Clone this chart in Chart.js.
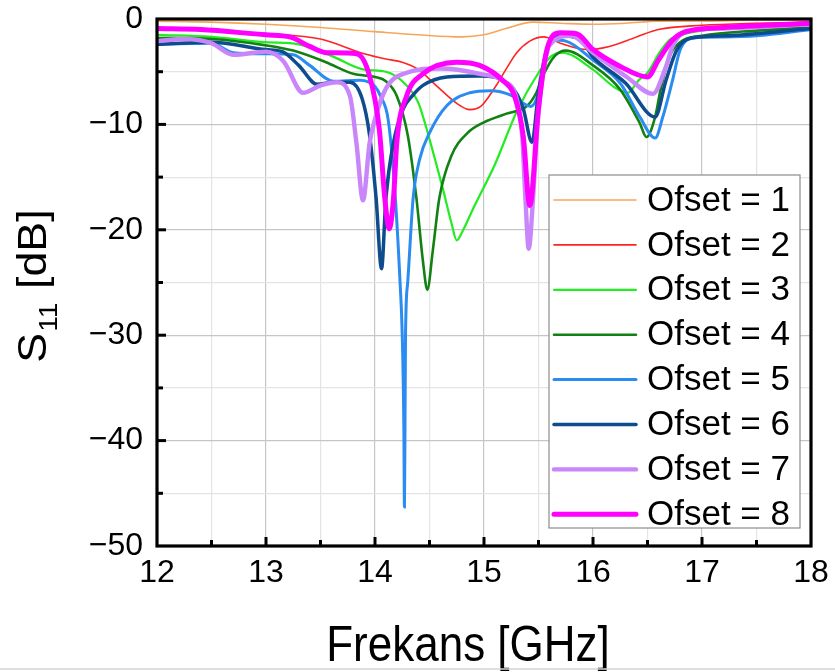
<!DOCTYPE html>
<html>
<head>
<meta charset="utf-8">
<script src="https://cdn.jsdelivr.net/npm/chart.js@4.4.1/dist/chart.umd.min.js"></script>
<style>
  html, body { margin: 0; padding: 0; background: #fff; }
  canvas { display: block; }
</style>
</head>
<body>
<canvas id="chart" width="835" height="672"></canvas>
<script>
// S11 vs frequency, one pair of arrays per offset value
const labels = ['Ofset = 1', 'Ofset = 2', 'Ofset = 3', 'Ofset = 4', 'Ofset = 5', 'Ofset = 6', 'Ofset = 7', 'Ofset = 8'];

const f1 = [12, 12.5, 13, 13.5, 14, 14.4, 14.8, 15.0, 15.2, 15.45, 15.7, 16.0, 16.3, 16.6, 17, 17.5, 18];
const s1 = [-0.2, -0.3, -0.5, -0.8, -1.2, -1.5, -1.7, -1.5, -0.9, -0.3, -0.4, -0.5, -0.4, -0.2, -0.2, -0.1, -0.1];

const f2 = [12, 12.5, 13, 13.5, 13.9, 14.1, 14.25, 14.4, 14.55, 14.75, 14.87, 14.97, 15.1, 15.2, 15.3, 15.42, 15.55, 15.7, 15.95, 16.15, 16.4, 16.6, 17, 17.5, 18];
const s2 = [-0.9, -1.1, -1.4, -1.9, -3.3, -3.8, -4.1, -4.8, -6.2, -8.0, -8.6, -8.3, -6.5, -4.8, -3.2, -2.1, -1.7, -2.3, -2.9, -2.6, -1.7, -1.0, -0.6, -0.4, -0.3];

const f3 = [12, 12.5, 13, 13.3, 13.6, 13.9, 14.1, 14.29, 14.4, 14.47, 14.55, 14.62, 14.7, 14.75, 14.8, 14.9, 15.1, 15.3, 15.5, 15.62, 15.72, 16.0, 16.2, 16.32, 16.42, 16.5, 16.61, 16.7, 16.85, 17, 17.5, 18];
const s3 = [-1.5, -1.7, -2.2, -2.4, -3.5, -4.8, -5.0, -6.3, -8.0, -10.3, -13.3, -16.0, -19.3, -21.0, -20.2, -18.0, -13.8, -8.8, -5.1, -3.5, -3.2, -4.8, -6.5, -7.0, -5.8, -5.1, -3.2, -2.0, -1.4, -1.1, -0.6, -0.5];

const f4 = [12, 12.5, 13, 13.25, 13.55, 13.8, 14.0, 14.1, 14.2, 14.3, 14.38, 14.44, 14.48, 14.53, 14.59, 14.7, 14.85, 15.0, 15.2, 15.4, 15.48, 15.55, 15.65, 15.75, 16.0, 16.25, 16.43, 16.49, 16.57, 16.62, 16.7, 16.8, 17.0, 17.5, 18];
const s4 = [-1.8, -1.9, -2.5, -3.0, -4.1, -5.2, -5.5, -5.9, -7.3, -11.0, -17.0, -23.0, -25.7, -22.0, -17.0, -13.0, -10.8, -9.8, -9.0, -8.2, -7.0, -5.2, -3.5, -3.0, -4.4, -6.7, -9.9, -11.2, -9.3, -6.7, -3.6, -2.2, -1.6, -1.1, -0.8];

const f5 = [12, 12.5, 12.7, 13, 13.25, 13.4, 13.62, 13.86, 14.0, 14.05, 14.12, 14.18, 14.23, 14.25, 14.265, 14.27, 14.275, 14.28, 14.3, 14.35, 14.41, 14.5, 14.66, 14.87, 15.06, 15.24, 15.36, 15.43, 15.5, 15.56, 15.63, 15.75, 16.0, 16.25, 16.43, 16.57, 16.64, 16.73, 16.8, 16.92, 17.2, 17.5, 18];
const s5 = [-2.4, -2.3, -3.2, -3.3, -3.4, -4.4, -5.9, -5.8, -6.4, -7.3, -9.5, -16.0, -25.0, -30.0, -39.0, -46.3, -39.0, -30.0, -25.0, -17.0, -13.3, -10.8, -8.2, -7.0, -6.8, -7.2, -8.0, -8.3, -7.0, -3.8, -2.0, -2.1, -3.9, -6.1, -9.3, -11.3, -9.3, -5.8, -2.9, -1.8, -1.7, -1.6, -1.0];

const f6 = [12, 12.5, 13, 13.15, 13.3, 13.47, 13.62, 13.77, 13.88, 13.95, 14.01, 14.06, 14.1, 14.17, 14.26, 14.35, 14.44, 14.66, 14.96, 15.24, 15.36, 15.44, 15.5, 15.58, 15.7, 15.88, 16.0, 16.3, 16.57, 16.67, 16.77, 16.9, 17.2, 18];
const s6 = [-2.4, -2.2, -2.9, -3.1, -4.4, -6.2, -6.0, -6.0, -7.5, -11.0, -17.0, -23.7, -17.0, -11.7, -8.5, -7.2, -6.3, -5.5, -5.4, -6.3, -8.5, -11.7, -6.9, -2.8, -1.6, -1.9, -3.6, -6.1, -9.3, -5.8, -2.9, -1.8, -1.6, -0.9];

const f7 = [12, 12.25, 12.5, 12.7, 13.0, 13.16, 13.34, 13.5, 13.65, 13.77, 13.83, 13.89, 13.95, 14.0, 14.1, 14.29, 14.6, 14.96, 15.18, 15.3, 15.35, 15.38, 15.41, 15.45, 15.49, 15.54, 15.6, 15.8, 16.0, 16.31, 16.55, 16.67, 16.73, 16.85, 17.2, 18];
const s7 = [-2.1, -1.9, -2.3, -3.4, -3.1, -4.0, -7.0, -6.3, -6.0, -7.3, -11.8, -17.2, -11.8, -9.5, -6.6, -5.1, -4.7, -5.2, -5.9, -7.6, -11.0, -17.0, -21.8, -17.0, -10.0, -5.3, -2.5, -1.6, -3.2, -5.5, -7.1, -4.5, -2.6, -1.2, -0.9, -0.5];

const f8 = [12, 12.4, 13.0, 13.22, 13.4, 13.56, 13.83, 13.95, 14.04, 14.09, 14.13, 14.17, 14.2, 14.29, 14.44, 14.75, 14.96, 15.18, 15.28, 15.36, 15.42, 15.5, 15.58, 15.7, 15.85, 16.0, 16.25, 16.5, 16.6, 16.73, 16.85, 17.2, 18];
const s8 = [-0.9, -1.0, -1.5, -1.7, -2.6, -3.2, -3.3, -5.4, -10.5, -17.0, -19.9, -17.0, -11.7, -7.3, -5.2, -4.1, -4.4, -5.9, -7.3, -11.1, -17.7, -8.5, -2.8, -1.3, -1.4, -2.9, -4.5, -5.5, -3.9, -2.0, -1.2, -0.8, -0.4];

const freqs = [f1, f2, f3, f4, f5, f6, f7, f8];
const values = [s1, s2, s3, s4, s5, s6, s7, s8];
const colors = ['#F7A659', '#FF2424', '#22EC22', '#128012', '#2A8CF0', '#0E4C8E', '#C886FA', '#FF00FF'];
const widths = [1.6, 1.6, 2.2, 2.6, 3, 3.5, 4.4, 5];

const xTicks = [12, 13, 14, 15, 16, 17, 18];
const yTicks = [0, -10, -20, -30, -40, -50];

const FONT = '"Liberation Sans", Arial, sans-serif';

const datasets = labels.map((label, i) => ({
  label,
  data: freqs[i].map((f, j) => ({ x: f, y: values[i][j] })),
  borderColor: colors[i],
  backgroundColor: colors[i],
  borderWidth: widths[i],
  pointRadius: 0,
  fill: false,
  cubicInterpolationMode: 'monotone',
  order: labels.length - i
}));

// frame, inward ticks, legend box and titles
const decorations = {
  id: 'decorations',
  afterDatasetsDraw(chart) {
    const { ctx, chartArea: a, scales: { x, y } } = chart;
    ctx.save();

    // legend
    const lx = 549, ly = 175, lw = 251, lh = 353;
    ctx.fillStyle = '#fff';
    ctx.fillRect(lx, ly, lw, lh);
    ctx.strokeStyle = '#8c8c8c';
    ctx.lineWidth = 1.2;
    ctx.strokeRect(lx, ly, lw, lh);
    ctx.font = '35px ' + FONT;
    ctx.textAlign = 'left';
    ctx.textBaseline = 'middle';
    labels.forEach((lab, i) => {
      const yy = 200 + i * 44.9;
      ctx.beginPath();
      ctx.strokeStyle = colors[i];
      ctx.lineWidth = widths[i];
      ctx.lineCap = 'round';
      ctx.moveTo(554, yy);
      ctx.lineTo(636, yy);
      ctx.stroke();
      ctx.fillStyle = '#000';
      ctx.fillText(lab, 647, yy + 1);
    });

    // ticks pointing inward
    ctx.strokeStyle = '#000';
    ctx.lineWidth = 3;
    ctx.lineCap = 'butt';
    for (let v = 12.5; v < 18; v += 0.5) {
      const px = x.getPixelForValue(v);
      const len = v % 1 === 0 ? 9 : 6;
      ctx.beginPath();
      ctx.moveTo(px, a.bottom);
      ctx.lineTo(px, a.bottom - len);
      ctx.stroke();
    }
    for (let v = -45; v < 0; v += 5) {
      const py = y.getPixelForValue(v);
      const len = v % 10 === 0 ? 9 : 6;
      ctx.beginPath();
      ctx.moveTo(a.left, py);
      ctx.lineTo(a.left + len, py);
      ctx.stroke();
    }

    // frame
    ctx.lineWidth = 3.2;
    ctx.strokeRect(a.left, a.top, a.right - a.left, a.bottom - a.top);

    // axis titles (the source figure is slightly stretched, so are these)
    ctx.fillStyle = '#000';
    ctx.textBaseline = 'alphabetic';
    ctx.textAlign = 'center';
    ctx.save();
    ctx.translate(468, 661);
    ctx.scale(1, 1.12);
    ctx.font = '44px ' + FONT;
    ctx.fillText('Frekans [GHz]', 0, 0);
    ctx.restore();

    ctx.save();
    ctx.translate(46, 286);
    ctx.rotate(-Math.PI / 2);
    ctx.scale(1.12, 1);
    const big = '40px ' + FONT, small = '25px ' + FONT;
    ctx.font = big;
    const wS = ctx.measureText('S').width;
    const wR = ctx.measureText(' [dB]').width;
    ctx.font = small;
    const wSub = ctx.measureText('11').width;
    let x0 = -(wS + wSub + wR + 2) / 2;
    ctx.textAlign = 'left';
    ctx.font = big;
    ctx.fillText('S', x0, 0);
    ctx.font = small;
    ctx.fillText('11', x0 + wS + 1, 11);
    ctx.font = big;
    ctx.fillText(' [dB]', x0 + wS + wSub + 2, 0);
    ctx.restore();

    // page edge line under the figure
    ctx.strokeStyle = '#d4d4d4';
    ctx.lineWidth = 1.5;
    ctx.beginPath();
    ctx.moveTo(0, 669);
    ctx.lineTo(835, 669);
    ctx.stroke();

    ctx.restore();
  }
};

new Chart(document.getElementById('chart'), {
  type: 'line',
  data: { datasets },
  options: {
    responsive: false,
    animation: false,
    layout: { padding: { left: 0, top: 19, right: 24, bottom: 0 } },
    plugins: { legend: { display: false }, tooltip: { enabled: false } },
    scales: {
      x: {
        type: 'linear',
        min: 12,
        max: 18,
        afterFit: s => { s.height = 126; s.paddingLeft = 0; s.paddingRight = 0; },
        border: { display: false },
        grid: {
          drawTicks: false,
          color: c => (c.tick && c.tick.value % 1 === 0) ? '#c6c6c6' : '#e4e4e4',
          lineWidth: 1.2
        },
        ticks: {
          stepSize: 0.5,
          autoSkip: false,
          maxRotation: 0,
          padding: 8,
          color: '#000',
          font: { family: FONT, size: 32 },
          callback: v => xTicks.includes(v) ? String(v) : ''
        }
      },
      y: {
        min: -50,
        max: 0,
        afterFit: s => { s.width = 157; s.paddingTop = 0; s.paddingBottom = 0; },
        border: { display: false },
        grid: {
          drawTicks: false,
          color: c => (c.tick && c.tick.value % 10 === 0) ? '#c6c6c6' : '#e4e4e4',
          lineWidth: 1.2
        },
        ticks: {
          stepSize: 5,
          autoSkip: false,
          padding: 14,
          color: '#000',
          font: { family: FONT, size: 32 },
          callback: v => yTicks.includes(v) ? (v < 0 ? '\u2212' + Math.abs(v) : String(v)) : ''
        }
      }
    }
  },
  plugins: [decorations]
});
</script>
</body>
</html>
